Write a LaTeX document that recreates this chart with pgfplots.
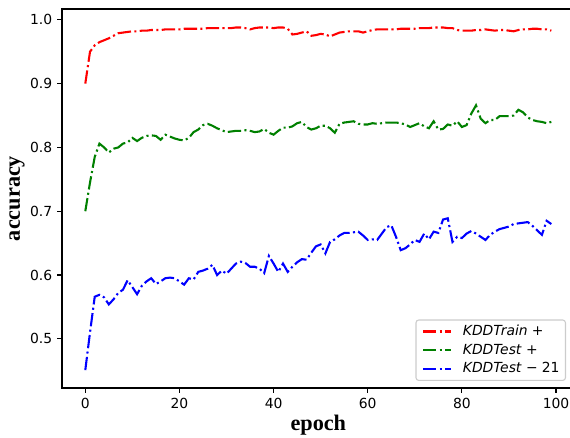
\documentclass[border=0pt]{standalone}
\usepackage{fontspec}
\setmainfont{DejaVu Sans}
\newfontfamily\labelfont{Liberation Serif}
\usepackage{pgfplots}
\usepackage{pgfplotstable}
\pgfplotsset{compat=1.18}

\pgfplotstableread{
ep train test test21
0 0.900 0.700 0.451
1 0.950 0.745 0.510
2 0.960 0.785 0.566
3 0.965 0.806 0.569
4 0.968 0.800 0.565
5 0.971 0.792 0.554
6 0.975 0.798 0.562
7 0.979 0.800 0.572
8 0.980 0.806 0.577
9 0.981 0.808 0.592
10 0.982 0.815 0.581
11 0.982 0.810 0.570
12 0.983 0.815 0.583
13 0.983 0.818 0.590
14 0.984 0.819 0.595
15 0.984 0.818 0.586
16 0.984 0.812 0.590
17 0.985 0.820 0.595
18 0.985 0.817 0.596
19 0.985 0.814 0.595
20 0.985 0.812 0.590
21 0.986 0.811 0.585
22 0.986 0.815 0.595
23 0.986 0.824 0.593
24 0.986 0.828 0.605
25 0.986 0.835 0.607
26 0.987 0.837 0.610
27 0.987 0.834 0.616
28 0.987 0.830 0.600
29 0.987 0.827 0.607
30 0.987 0.824 0.602
31 0.987 0.825 0.610
32 0.988 0.826 0.618
33 0.988 0.826 0.621
34 0.987 0.827 0.619
35 0.985 0.826 0.613
36 0.987 0.824 0.613
37 0.988 0.825 0.610
38 0.988 0.829 0.603
39 0.988 0.823 0.630
40 0.987 0.820 0.618
41 0.988 0.826 0.605
42 0.988 0.831 0.618
43 0.986 0.831 0.605
44 0.977 0.833 0.613
45 0.978 0.838 0.620
46 0.980 0.840 0.625
47 0.982 0.832 0.624
48 0.975 0.828 0.635
49 0.976 0.830 0.645
50 0.978 0.834 0.648
51 0.977 0.834 0.634
52 0.974 0.830 0.652
53 0.977 0.823 0.656
54 0.980 0.837 0.662
55 0.981 0.839 0.666
56 0.982 0.840 0.666
57 0.982 0.841 0.667
58 0.982 0.837 0.668
59 0.980 0.836 0.662
60 0.982 0.836 0.655
61 0.984 0.838 0.656
62 0.985 0.837 0.655
63 0.985 0.838 0.665
64 0.985 0.839 0.675
65 0.985 0.839 0.678
66 0.985 0.839 0.660
67 0.986 0.838 0.639
68 0.986 0.836 0.642
69 0.986 0.832 0.648
70 0.986 0.835 0.655
71 0.987 0.838 0.652
72 0.987 0.833 0.665
73 0.987 0.830 0.656
74 0.988 0.841 0.668
75 0.988 0.828 0.666
76 0.988 0.829 0.687
77 0.987 0.836 0.689
78 0.987 0.834 0.652
79 0.984 0.841 0.660
80 0.983 0.832 0.658
81 0.983 0.835 0.665
82 0.983 0.853 0.669
83 0.984 0.866 0.665
84 0.984 0.845 0.660
85 0.985 0.838 0.655
86 0.984 0.843 0.663
87 0.983 0.843 0.668
88 0.984 0.849 0.672
89 0.984 0.849 0.674
90 0.983 0.849 0.676
91 0.982 0.850 0.680
92 0.984 0.859 0.681
93 0.985 0.855 0.682
94 0.985 0.847 0.683
95 0.986 0.843 0.677
96 0.986 0.841 0.670
97 0.985 0.840 0.663
98 0.985 0.838 0.685
99 0.983 0.840 0.680
}\acc

\definecolor{mplgreen}{rgb}{0,0.5,0}

\begin{document}
\begin{tikzpicture}
\begin{axis}[
    scale only axis, width=369.1pt, height=272.9pt,
    xmin=-4.95, xmax=103.95, ymin=0.423, ymax=1.017,
    % spines drawn by hand below: the right one is cut off in the original
    axis line style={draw=none},
    x axis line style={draw=none},
    y axis line style={draw=none},
    xtick={0,20,...,100}, ytick={0.5,0.6,...,1.0},
    yticklabel style={/pgf/number format/.cd, fixed, fixed zerofill, precision=1},
    /pgf/number format/assume math mode=true,
    tick label style={font=\fontsize{10}{12}\selectfont},
    tick align=outside, tick pos=left,
    major tick length=3.5pt,
    every tick/.style={black, line width=0.8pt},
    xlabel={epoch}, ylabel={accuracy},
    label style={font=\labelfont\bfseries\fontsize{16}{19}\selectfont},
    xlabel style={yshift=2pt},
    ylabel style={yshift=-3pt},
    every axis plot/.append style={line width=1.5pt, dash pattern=on 9.6pt off 2.4pt on 1.5pt off 2.4pt},
    legend cell align=left,
    legend image code/.code={\draw[#1] (0pt,0pt) -- (20pt,0pt);},
    legend style={at={(0.9832,0.0185)}, anchor=south east, draw=black!20, line width=0.8pt,
        rounded corners=2pt, font=\fontsize{10}{12}\selectfont,
        row sep=4pt, column sep=8pt, inner xsep=4.3pt, inner ysep=3.5pt,
        nodes={inner sep=0pt, text height=7.5pt, text depth=2pt}},
]
\addplot[red] table[x=ep, y=train] {\acc};
\addlegendentry{\textit{KDDTrain}\hspace{3pt}+}
\addplot[mplgreen] table[x=ep, y=test] {\acc};
\addlegendentry{\textit{KDDTest}\hspace{3pt}+}
\addplot[blue] table[x=ep, y=test21] {\acc};
\addlegendentry{\textit{KDDTest}\hspace{3pt}\textminus\hspace{3pt}21}
\end{axis}
\draw[line width=0.8pt, line cap=rect] (369.1pt,272.9pt) -- (0pt,272.9pt) -- (0pt,0pt) -- (369.1pt,0pt);
\pgfresetboundingbox
\path[use as bounding box] (-44.64pt,-36pt) rectangle (365.76pt,279.36pt);
\end{tikzpicture}
\end{document}
